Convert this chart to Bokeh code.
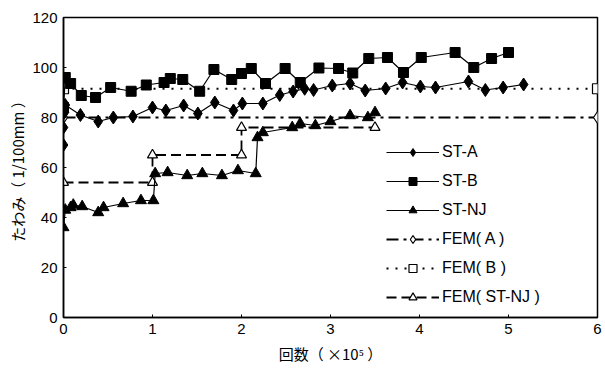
from bokeh.plotting import figure
from bokeh.models import Range1d, FixedTicker, Legend, LegendItem
from bokeh.embed import file_html
from bokeh.resources import INLINE

# ST-A (filled diamonds)
sta_x = [0.0, 0.0, 0.01, 0.02, 0.19, 0.39, 0.56, 0.78, 1.0, 1.15, 1.35, 1.51, 1.70, 1.91, 2.01, 2.24,
         2.43, 2.58, 2.71, 2.81, 3.02, 3.22, 3.39, 3.62, 3.81, 4.01, 4.18, 4.55, 4.74, 4.94, 5.17]
sta_y = [69, 76, 82, 85, 81, 78.4, 80, 80.4, 84, 82.8, 84.8, 81.6, 86, 82.8, 85.6, 85.6,
         89, 90.4, 91.5, 91, 92.8, 93.6, 90.8, 91.6, 94, 92.4, 92, 94.4, 91, 92, 93.2]

# ST-B (filled squares)
stb_x = [0.0, 0.02, 0.08, 0.2, 0.36, 0.53, 0.76, 0.93, 1.13, 1.2, 1.34, 1.53, 1.69, 1.89, 2.0, 2.11,
         2.27, 2.49, 2.66, 2.87, 3.09, 3.25, 3.43, 3.64, 3.82, 4.02, 4.4, 4.61, 4.81, 5.0]
stb_y = [84, 96, 93.6, 88.8, 88, 92, 90.5, 93, 94, 95.6, 95.2, 90.5, 99.2, 95.2, 97.6, 99.6,
         93.6, 99.6, 94, 99.8, 99.6, 97.8, 103.6, 104, 98, 104, 106, 100, 103.6, 106]

# ST-NJ (filled triangles)
stnj_x = [0.0, 0.02, 0.08, 0.11, 0.21, 0.39, 0.45, 0.67, 0.87, 1.01, 1.03, 1.17, 1.39, 1.56, 1.78,
          1.96, 2.16, 2.18, 2.24, 2.57, 2.66, 2.83, 3.0, 3.22, 3.42, 3.5]
stnj_y = [36, 43, 44, 45, 44.4, 42, 44, 45.6, 46.8, 46.8, 57.6, 58, 56.8, 57.6, 56.8,
          58.8, 57.6, 72, 74, 76, 77.6, 76.8, 78.4, 80.8, 80, 82]

# FEM results
fema_x = [0, 6]
fema_y = [80, 80]
femb_x = [0, 6]
femb_y = [91.5, 91.5]
femnj_x = [0, 1, 1, 2, 2, 3.5]
femnj_y = [54, 54, 65, 65, 76, 76]

x_ticks = [0, 1, 2, 3, 4, 5, 6]
y_ticks = [0, 20, 40, 60, 80, 100, 120]

FONT = "Liberation Sans"
JP = "Noto Sans CJK JP"

p = figure(width=605, height=372, output_backend="svg", toolbar_location=None,
           x_range=Range1d(0, 6), y_range=Range1d(0, 120),
           min_border_left=63, min_border_right=8, min_border_top=17, min_border_bottom=55)
p.xgrid.visible = False
p.ygrid.visible = False
p.outline_line_color = "black"
p.outline_line_width = 1.5
p.background_fill_color = "white"
p.border_fill_color = "white"

for ax in (p.xaxis[0], p.yaxis[0]):
    ax.axis_line_width = 1.5
    ax.axis_line_color = "black"
    ax.major_tick_in = 3
    ax.major_tick_out = 0
    ax.minor_tick_in = 0
    ax.minor_tick_out = 0
    ax.major_label_text_font = FONT
    ax.major_label_text_font_size = "15px"
    ax.major_label_text_color = "black"
    ax.axis_label_text_font = JP
    ax.axis_label_text_font_size = "15px"
    ax.axis_label_text_font_style = "normal"
    ax.axis_label_text_color = "black"

p.xaxis[0].ticker = FixedTicker(ticks=x_ticks)
p.yaxis[0].ticker = FixedTicker(ticks=y_ticks)
p.xaxis[0].axis_label = "回数（ ×10⁵ ）"
p.yaxis[0].axis_label = "たわみ（ 1/100mm ）"
p.xaxis[0].major_label_standoff = 6
p.yaxis[0].major_label_standoff = 6
p.xaxis[0].axis_label_standoff = 6
p.yaxis[0].axis_label_standoff = 1

# FEM lines
la = p.line(fema_x, fema_y, line_color="black", line_width=1.8, line_dash="12 5 3 5")
ma = p.scatter(fema_x, fema_y, marker="diamond", size=12, fill_color="white", line_color="black", line_width=1.2)
lb = p.line(femb_x, femb_y, line_color="black", line_width=1.8, line_dash="2 7")
mb = p.scatter(femb_x, femb_y, marker="square", size=10, fill_color="white", line_color="black", line_width=1.2)
lnj = p.line(femnj_x, femnj_y, line_color="black", line_width=1.8, line_dash="10 5")
mnj = p.scatter(femnj_x, femnj_y, marker="triangle", size=10, fill_color="white", line_color="black", line_width=1.2)

# Test lines
l1 = p.line(sta_x, sta_y, line_color="black", line_width=1.2)
m1 = p.scatter(sta_x, sta_y, marker="diamond", size=13, fill_color="black", line_color="black")
l2 = p.line(stb_x, stb_y, line_color="black", line_width=1.2)
m2 = p.scatter(stb_x, stb_y, marker="square", size=10, fill_color="black", line_color="black")
l3 = p.line(stnj_x, stnj_y, line_color="black", line_width=1.2)
m3 = p.scatter(stnj_x, stnj_y, marker="triangle", size=11, fill_color="black", line_color="black")

legend = Legend(items=[
    LegendItem(label="ST-A", renderers=[l1, m1]),
    LegendItem(label="ST-B", renderers=[l2, m2]),
    LegendItem(label="ST-NJ", renderers=[l3, m3]),
    LegendItem(label="FEM( A )", renderers=[la, ma]),
    LegendItem(label="FEM( B )", renderers=[lb, mb]),
    LegendItem(label="FEM( ST-NJ )", renderers=[lnj, mnj]),
], location=(323, 10))
legend.border_line_color = None
legend.background_fill_color = "white"
legend.background_fill_alpha = 1.0
legend.padding = 0
legend.margin = 0
legend.spacing = 9
legend.glyph_width = 53
legend.glyph_height = 20
legend.label_height = 20
legend.label_standoff = 3
legend.label_text_font = FONT
legend.label_text_font_size = "16px"
legend.label_text_color = "black"
p.add_layout(legend)

open("out.html", "w").write(file_html(p, INLINE))
